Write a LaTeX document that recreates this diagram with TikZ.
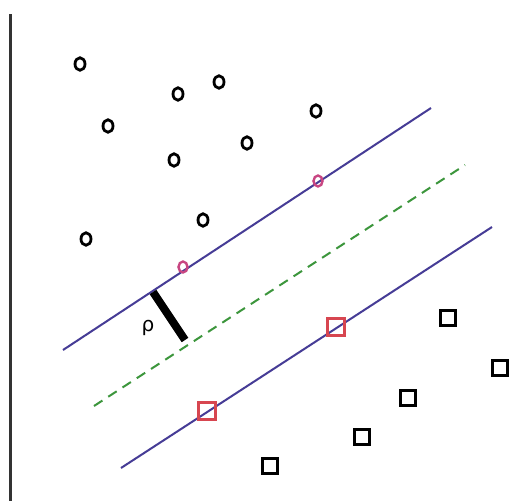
\documentclass[tikz,border=0pt]{standalone}
\usepackage{fontspec}
\setmainfont{DejaVu Sans}
\usetikzlibrary{shapes.geometric}
\definecolor{svblue}{RGB}{70,60,150}
\definecolor{svgreen}{RGB}{60,150,60}
\definecolor{svpink}{RGB}{200,70,130}
\definecolor{svred}{RGB}{215,70,80}
\tikzset{
  omark/.style={draw=black, line width=2.8pt, ellipse, minimum width=10pt, minimum height=12.5pt, inner sep=0pt},
  smark/.style={draw=black, line width=2.8pt, rectangle, minimum size=15pt, inner sep=0pt},
  svo/.style={draw=svpink, line width=2.4pt, ellipse, minimum width=9pt, minimum height=11pt, inner sep=0pt},
  svs/.style={draw=svred, line width=2.4pt, rectangle, minimum size=17pt, inner sep=0pt},
  margin/.style={draw=svblue, line width=2pt},
  hyper/.style={draw=svgreen, line width=2pt, dash pattern=on 10pt off 7pt},
}
\begin{document}
\begin{tikzpicture}[x=1pt,y=-1pt]
\useasboundingbox[fill=white] (0,0) rectangle (526,501);
% axis
\coordinate (axT) at (10,14);
\coordinate (axB) at (10,501);
\draw[line width=3pt, black!80] (axT) -- (axB);
% lines
\coordinate (u1) at (63,350); \coordinate (u2) at (431,108);
\coordinate (g1) at (94,406); \coordinate (g2) at (465,165);
\coordinate (l1) at (121,468); \coordinate (l2) at (492,227);
\draw[margin] (u1) -- (u2);
\draw[hyper] (g1) -- (g2);
\draw[margin] (l1) -- (l2);
% circles
\node[omark] (c1) at (80,64) {};
\node[omark] (c2) at (178,94) {};
\node[omark] (c3) at (219,82) {};
\node[omark] (c4) at (108,126) {};
\node[omark] (c5) at (316,111) {};
\node[omark] (c6) at (247,143) {};
\node[omark] (c7) at (174,160) {};
\node[omark] (c8) at (203,220) {};
\node[omark] (c9) at (86,239) {};
% support circles
\node[svo] (sc1) at (318,181) {};
\node[svo] (sc2) at (183,267) {};
% squares
\node[smark] (s1) at (448,318) {};
\node[smark] (s2) at (500,368) {};
\node[smark] (s3) at (408,398) {};
\node[smark] (s4) at (362,437) {};
\node[smark] (s5) at (270,466) {};
% support squares
\node[svs] (ss1) at (336,327) {};
\node[svs] (ss2) at (207,411) {};
% margin
\coordinate (m1) at (153,292);
\coordinate (m2) at (185,340);
\draw[line width=8pt, black] (m1) -- (m2);
\node[font=\fontsize{20}{20}\selectfont, inner sep=0pt] (rho) at (148,328) {ρ};
\end{tikzpicture}
\end{document}
